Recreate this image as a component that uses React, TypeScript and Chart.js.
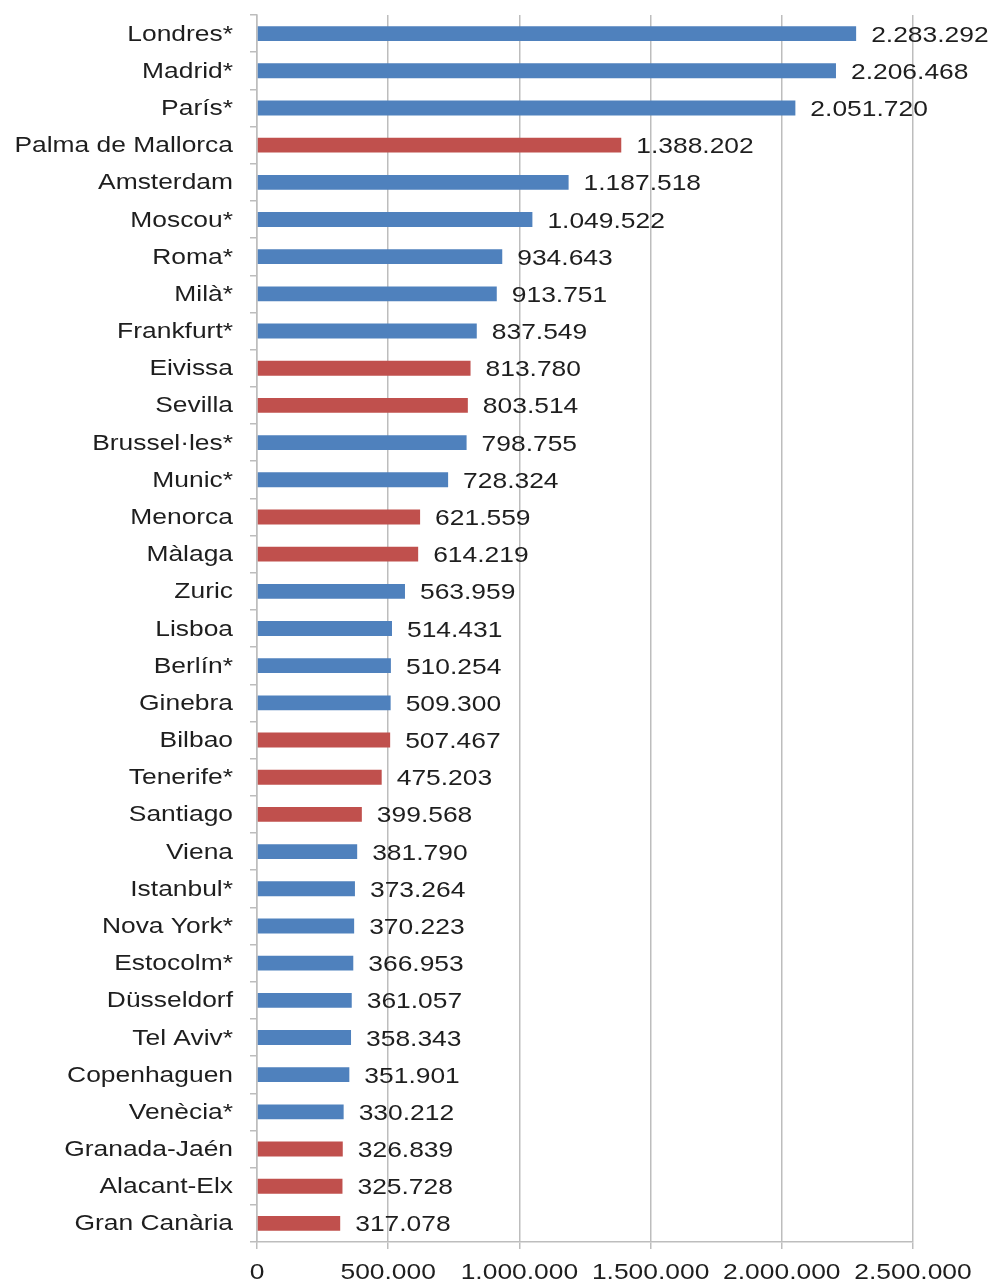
import React, { useEffect, useRef } from "react";
import { Chart, registerables } from "chart.js";

Chart.register(...registerables);

const cities = [
  "Londres*", "Madrid*", "París*", "Palma de Mallorca", "Amsterdam", "Moscou*",
  "Roma*", "Milà*", "Frankfurt*", "Eivissa", "Sevilla", "Brussel·les*", "Munic*",
  "Menorca", "Màlaga", "Zuric", "Lisboa", "Berlín*", "Ginebra", "Bilbao",
  "Tenerife*", "Santiago", "Viena", "Istanbul*", "Nova York*", "Estocolm*",
  "Düsseldorf", "Tel Aviv*", "Copenhaguen", "Venècia*", "Granada-Jaén",
  "Alacant-Elx", "Gran Canària",
];

const passengers = [
  2283292, 2206468, 2051720, 1388202, 1187518, 1049522,
  934643, 913751, 837549, 813780, 803514, 798755, 728324,
  621559, 614219, 563959, 514431, 510254, 509300, 507467,
  475203, 399568, 381790, 373264, 370223, 366953,
  361057, 358343, 351901, 330212, 326839,
  325728, 317078,
];

// "es" = Spanish airport (red), "int" = international (blue)
const region = [
  "int", "int", "int", "es", "int", "int",
  "int", "int", "int", "es", "es", "int", "int",
  "es", "es", "int", "int", "int", "int", "es",
  "es", "es", "int", "int", "int", "int",
  "int", "int", "int", "int", "es",
  "es", "es",
];

const xTicks = [0, 500000, 1000000, 1500000, 2000000, 2500000];

const BLUE = "#4f81bd";
const RED = "#c0504d";
const FONT = "'Liberation Sans', Arial, sans-serif";
const TEXT = "#1e1e1e";
const SX = 1.2; // horizontal stretch of the reference's text

function fmt(n: number): string {
  return String(Math.round(n)).replace(/\B(?=(\d{3})+(?!\d))/g, ".");
}

function drawText(ctx: any, text: string, x: number, y: number, align: "left" | "right" | "center") {
  const w = ctx.measureText(text).width * SX;
  let x0 = x;
  if (align === "right") x0 = x - w;
  else if (align === "center") x0 = x - w / 2;
  ctx.save();
  ctx.translate(x0, y);
  ctx.scale(SX, 1);
  ctx.textAlign = "left";
  ctx.fillText(text, 0, 0);
  ctx.restore();
}

const textPlugin = {
  id: "stretchedText",
  afterDatasetsDraw(chart: any) {
    const ctx = chart.ctx;
    ctx.save();
    ctx.font = `22px ${FONT}`;
    ctx.fillStyle = TEXT;
    ctx.textBaseline = "middle";

    // value labels
    const meta = chart.getDatasetMeta(0);
    meta.data.forEach((bar: any, i: number) => {
      const v = chart.data.datasets[0].data[i] as number;
      drawText(ctx, fmt(v), bar.x + 15, bar.y + 2, "left");
    });

    // category labels
    const ys = chart.scales.y;
    const labels = chart.data.labels as string[];
    labels.forEach((lab, i) => {
      drawText(ctx, lab, ys.right - 24, ys.getPixelForTick(i) + 1, "right");
    });

    // value axis labels
    const xs = chart.scales.x;
    xs.ticks.forEach((t: any) => {
      drawText(ctx, fmt(t.value), xs.getPixelForValue(t.value), xs.top + 31, "center");
    });
    ctx.restore();
  },
};

export default function App() {
  const ref = useRef<HTMLCanvasElement>(null);

  useEffect(() => {
    document.body.style.margin = "0";
    const chart = new Chart(ref.current!, {
      type: "bar",
      data: {
        labels: cities,
        datasets: [
          {
            data: passengers,
            backgroundColor: region.map((r) => (r === "es" ? RED : BLUE)),
            barPercentage: 0.4,
            categoryPercentage: 1,
          },
        ],
      },
      options: {
        indexAxis: "y",
        animation: false,
        responsive: false,
        layout: { padding: { top: 15, right: 82, bottom: 0, left: 0 } },
        plugins: { legend: { display: false }, tooltip: { enabled: false } },
        scales: {
          x: {
            min: 0,
            max: 2500000,
            afterBuildTicks(scale: any) {
              scale.ticks = xTicks.map((v) => ({ value: v }));
            },
            afterFit(scale: any) {
              scale.height = 42;
            },
            grid: { color: "#bdbdbd", lineWidth: 1.5, tickLength: 7 },
            border: { color: "#bdbdbd", width: 1.5 },
            ticks: { display: false },
          },
          y: {
            afterFit(scale: any) {
              scale.width = 257;
            },
            grid: { drawOnChartArea: false, color: "#bdbdbd", lineWidth: 1.5, tickLength: 7 },
            border: { color: "#bdbdbd", width: 1.5 },
            ticks: { display: false, autoSkip: false },
          },
        },
      },
      plugins: [textPlugin],
    });
    return () => chart.destroy();
  }, []);

  return (
    <div style={{ position: "absolute", left: 0, top: 0, width: 995, height: 1284 }}>
      <canvas ref={ref} width={995} height={1284} style={{ width: 995, height: 1284 }} />
    </div>
  );
}
